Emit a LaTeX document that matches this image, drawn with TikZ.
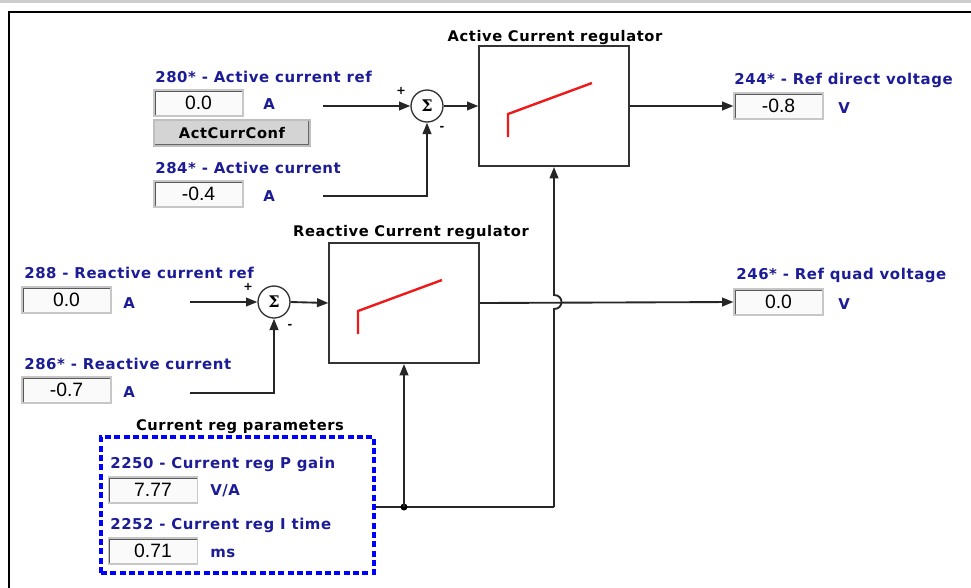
\documentclass[tikz,border=0pt]{standalone}
\usepackage{fontspec}
\setmainfont{DejaVu Sans}
\newfontfamily\lblfont[LetterSpace=4]{DejaVu Sans Bold}
\newfontfamily\valfont{Liberation Sans}
\newfontfamily\sigfont{DejaVu Serif Bold}
\usetikzlibrary{arrows.meta}
\definecolor{lblblue}{RGB}{28,28,150}
\definecolor{rampred}{RGB}{240,25,25}

\begin{document}
\begin{tikzpicture}[
    x=0.75pt, y=-0.75pt,
    every node/.style={inner sep=0pt},
    lbl/.style={font=\lblfont\fontsize{11.2}{13}\selectfont, text=lblblue, anchor=west},
    ttl/.style={font=\lblfont\fontsize{11}{13}\selectfont, text=black},
    pm/.style={font=\lblfont\fontsize{8.5}{9}\selectfont, text=black},
    field/.style={draw=black!22, fill=black!2, line width=0.8pt, minimum width=66.75pt, minimum height=19.5pt,
      font=\valfont\fontsize{14.5}{16}\selectfont,
      path picture={\draw[black!65, line width=2.6pt] (path picture bounding box.south west) -- (path picture bounding box.north west) -- (path picture bounding box.north east);}},
    btn/.style={draw=black!25, fill=black!17, line width=0.8pt, minimum width=117pt, minimum height=19.5pt,
      font=\lblfont\fontsize{11}{13}\selectfont,
      path picture={\draw[black!60, line width=2.6pt] (path picture bounding box.north east) -- (path picture bounding box.south east) -- (path picture bounding box.south west);}},
    block/.style={draw=black!80, line width=1.5pt, minimum width=112pt, minimum height=90pt},
    sumnode/.style={circle, draw=black!80, line width=1pt, minimum size=24pt, font=\sigfont\fontsize{12}{13}\selectfont},
    parbox/.style={draw=blue, line width=2.6pt, dash pattern=on 4.5pt off 2.5pt, minimum width=204.75pt, minimum height=102pt},
    wire/.style={line width=1.4pt, black!85},
    arr/.style={wire, -{Triangle[length=8.5pt,width=6.5pt]}},
    ramp/.style={rampred, line width=1.8pt}
  ]
  \useasboundingbox (0,0) rectangle (971,587);
  \fill[black!20] (0,0) rectangle (971,3);
  \draw[line width=2.2pt] (9,600) -- (9,12) -- (980,12);

  % active current path
  \node[lbl] (lAref) at (155,77) {280* - Active current ref};
  \node[field] (fAref) at (198.5,103) {0.0};
  \node[lbl] (uAref) at (263,104) {A};
  \node[btn] (bConf) at (232,133) {ActCurrConf};
  \node[lbl] (lAact) at (155,168) {284* - Active current};
  \node[field] (fAact) at (198.5,194) {-0.4};
  \node[lbl] (uAact) at (263,196) {A};
  \node[sumnode] (sumA) at (427,106) {Σ};
  \node[pm] (pA) at (401,91) {+};
  \node[pm] (mA) at (442,128) {-};
  \node[ttl] (tA) at (555,38) {Active Current regulator};
  \node[block] (actbox) at (554,106) {};
  \draw[ramp] (508,137) -- (508,114) -- (592,83);
  \node[lbl] (lVd) at (734,80) {244* - Ref direct voltage};
  \node[field] (fVd) at (778.5,106) {-0.8};
  \node[lbl] (uVd) at (838,108) {V};

  % reactive current path
  \node[lbl] (lRref) at (24,273) {288 - Reactive current ref};
  \node[field] (fRref) at (66.5,300) {0.0};
  \node[lbl] (uRref) at (123,303) {A};
  \node[lbl] (lRact) at (24,364) {286* - Reactive current};
  \node[field] (fRact) at (66.5,390) {-0.7};
  \node[lbl] (uRact) at (123,392) {A};
  \node[sumnode] (sumR) at (274,302) {Σ};
  \node[pm] (pR) at (248,287) {+};
  \node[pm] (mR) at (290,326) {-};
  \node[ttl] (tR) at (411,233) {Reactive Current regulator};
  \node[block] (reabox) at (404,303) {};
  \draw[ramp] (358,334) -- (358,311) -- (442,280);
  \node[lbl] (lVq) at (736,275) {246* - Ref quad voltage};
  \node[field] (fVq) at (778.5,302) {0.0};
  \node[lbl] (uVq) at (838,304) {V};

  % parameters
  \node[ttl] (tP) at (240,427) {Current reg parameters};
  \node[parbox] (params) at (237.5,505) {};
  \node[lbl] (lPg) at (110,464) {2250 - Current reg P gain};
  \node[field] (fPg) at (153,490) {7.77};
  \node[lbl] (uPg) at (210,491) {V/A};
  \node[lbl] (lIt) at (110,525) {2252 - Current reg I time};
  \node[field] (fIt) at (153,551) {0.71};
  \node[lbl] (uIt) at (210,553) {ms};

  % connections
  \coordinate (inAref) at (323,106);
  \coordinate (inAact) at (323,196);
  \coordinate (inRref) at (190,302);
  \coordinate (inRact) at (190,393);
  \coordinate (jR) at (404,507);
  \coordinate (jA) at (554,507);
  \draw[arr] (inAref) -- (sumA.west);
  \draw[arr] (inAact) -| (sumA.south);
  \draw[arr] (sumA.east) -- (actbox.west);
  \draw[arr] (actbox.east) -- (fVd.west);
  \draw[arr] (inRref) -- (sumR.west);
  \draw[arr] (inRact) -| (sumR.south);
  \draw[arr] (sumR.east) -- (reabox.west);
  \draw[arr] (reabox.east) -- (fVq.west);
  \draw[wire] (params.east |- jR) -- (jA);
  \fill (jR) circle (3.5);
  \draw[arr] (jR) -- (reabox.south);
  \draw[arr] (jA) -- (554,309) .. controls (564,309) and (564,295) .. (554,295) -- (actbox.south);
\end{tikzpicture}
\end{document}
